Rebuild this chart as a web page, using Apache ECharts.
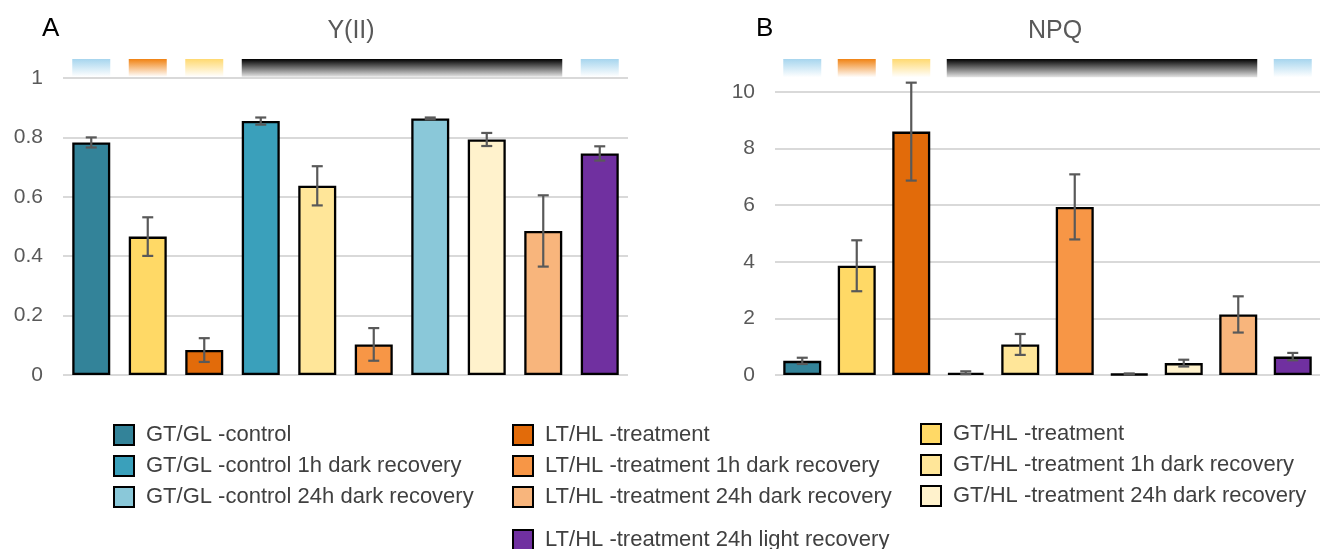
<!DOCTYPE html>
<html>
<head>
<meta charset="utf-8">
<script src="https://cdn.jsdelivr.net/npm/echarts@6/dist/echarts.min.js"></script>
<style>
html,body{margin:0;padding:0;background:#fff;}
#chart{width:1320px;height:549px;}
</style>
</head>
<body>
<div id="chart"></div>
<script>
// ---- data ----
const categories = [
  'GT/GL -control',
  'GT/HL -treatment',
  'LT/HL -treatment',
  'GT/GL -control 1h dark recovery',
  'GT/HL -treatment 1h dark recovery',
  'LT/HL -treatment 1h dark recovery',
  'GT/GL -control 24h dark recovery',
  'GT/HL -treatment 24h dark recovery',
  'LT/HL -treatment 24h dark recovery',
  'LT/HL -treatment 24h light recovery'
];
const yiiValues = [0.783, 0.466, 0.084, 0.855, 0.637, 0.103, 0.864, 0.793, 0.485, 0.746];
const yiiErrors = [0.017, 0.065, 0.040, 0.012, 0.066, 0.055, 0.003, 0.022, 0.120, 0.024];
const npqValues = [0.50, 3.86, 8.60, 0.08, 1.08, 5.94, 0.035, 0.42, 2.14, 0.65];
const npqErrors = [0.11, 0.90, 1.73, 0.05, 0.37, 1.15, 0.02, 0.12, 0.64, 0.13];
const yiiTicks = [0, 0.2, 0.4, 0.6, 0.8, 1];
const npqTicks = [0, 2, 4, 6, 8, 10];
// treatment timeline bands: [first category index, last category index, kind]
const bandSegments = [[0, 0, 'light'], [1, 1, 'orange'], [2, 2, 'yellow'], [3, 8, 'dark'], [9, 9, 'light']];
const legendCol1 = [categories[0], categories[3], categories[6]];
const legendCol2 = [categories[2], categories[5], categories[8]];
const legendCol3 = [categories[1], categories[4], categories[7]];
const legendCol4 = [categories[9]];

// ---- styles ----
const barColors = ['#338399', '#ffd966', '#e26b0a', '#3aa0bb', '#ffe699', '#f79646', '#8ac8d9', '#fff2cc', '#f8b57c', '#7030a0'];
const bandColors = {
  light: ['#a6d5ee', '#ffffff'],
  orange: ['#f08212', '#ffffff'],
  yellow: ['#ffd970', '#ffffff'],
  dark: ['#000000', '#e4e4e4']
};
const FONT = '"Liberation Sans", Arial, sans-serif';
const BAR_W = 38;

const chart = echarts.init(document.getElementById('chart'));

function errRender(params, api) {
  const x = api.coord([api.value(0), 0])[0];
  const hi = api.coord([api.value(0), api.value(2)])[1];
  const lo = api.coord([api.value(0), api.value(1)])[1];
  const hw = 5.5;
  const st = { stroke: '#595959', lineWidth: 2.2 };
  return { type: 'group', children: [
    { type: 'line', shape: { x1: x, y1: hi, x2: x, y2: lo }, style: st },
    { type: 'line', shape: { x1: x - hw, y1: hi, x2: x + hw, y2: hi }, style: st },
    { type: 'line', shape: { x1: x - hw, y1: lo, x2: x + hw, y2: lo }, style: st }
  ]};
}

function bandRender(lowV, highV) {
  return function (params, api) {
    const s = api.value(0), e = api.value(1);
    const kind = bandSegments[params.dataIndex][2];
    const x0 = api.coord([s, lowV])[0] - BAR_W / 2;
    const x1 = api.coord([e, lowV])[0] + BAR_W / 2;
    const yb = api.coord([s, lowV])[1];
    const yt = api.coord([s, highV])[1];
    const top = Math.min(yt, yb), bot = Math.max(yt, yb);
    return {
      type: 'rect',
      shape: { x: x0, y: top, width: x1 - x0, height: bot - top },
      style: {
        fill: new echarts.graphic.LinearGradient(0, top, 0, bot, [
          { offset: 0, color: bandColors[kind][0] },
          { offset: 1, color: bandColors[kind][1] }
        ], true)
      }
    };
  };
}

function makePanel(gridIndex, values, errors) {
  const out = [];
  categories.forEach((name, i) => {
    out.push({
      name: name,
      type: 'bar',
      xAxisIndex: gridIndex, yAxisIndex: gridIndex,
      barWidth: BAR_W,
      barGap: '-100%',
      itemStyle: { color: barColors[i], borderColor: '#000', borderWidth: 2.3 },
      data: values.map((v, j) => (j === i ? v : '-')),
      animation: false,
      z: 2
    });
  });
  out.push({
    type: 'custom',
    xAxisIndex: gridIndex, yAxisIndex: gridIndex,
    renderItem: errRender,
    clip: false,
    z: 5,
    animation: false,
    data: values.map((v, i) => [i, v - errors[i], v + errors[i]])
  });
  return out;
}

const yAxisBase = (ticks) => ({
  type: 'value',
  min: ticks[0], max: ticks[ticks.length - 1], interval: ticks[1] - ticks[0],
  axisLine: { show: false }, axisTick: { show: false },
  splitLine: { lineStyle: { color: '#d9d9d9', width: 2 } },
  axisLabel: { fontSize: 21, color: '#595959', fontFamily: FONT, margin: 20 }
});
const xAxisBase = () => ({
  type: 'category', data: categories,
  axisLine: { show: false }, axisTick: { show: false }, axisLabel: { show: false }
});

const legendBase = (data, left, top) => ({
  data: data, left: left, top: top, orient: 'vertical',
  padding: 0,
  itemWidth: 20, itemHeight: 20, itemGap: 9,
  icon: 'rect', selectedMode: false,
  itemStyle: { borderColor: '#000', borderWidth: 2 },
  textStyle: { fontSize: 22, color: '#404040', fontFamily: FONT, padding: [0, 0, 0, 7] }
});

const series = [].concat(
  makePanel(0, yiiValues, yiiErrors),
  makePanel(1, npqValues, npqErrors),
  [{
    type: 'custom', xAxisIndex: 0, yAxisIndex: 0, clip: false, animation: false, silent: true,
    renderItem: bandRender(1.004, 1.064),
    data: bandSegments.map(b => [b[0], b[1]])
  }, {
    type: 'custom', xAxisIndex: 1, yAxisIndex: 1, clip: false, animation: false, silent: true,
    renderItem: bandRender(10.52, 11.17),
    data: bandSegments.map(b => [b[0], b[1]])
  }]
);

chart.setOption({
  animation: false,
  backgroundColor: '#ffffff',
  textStyle: { fontFamily: FONT },
  title: [
    { text: 'A', left: 42, top: 16, padding: 0, textStyle: { fontSize: 26, fontWeight: 'normal', color: '#000', fontFamily: FONT } },
    { text: 'Y(II)', left: 351, textAlign: 'center', top: 19, padding: 0, textStyle: { fontSize: 25, fontWeight: 'normal', color: '#595959', fontFamily: FONT } },
    { text: 'B', left: 756, top: 16, padding: 0, textStyle: { fontSize: 26, fontWeight: 'normal', color: '#000', fontFamily: FONT } },
    { text: 'NPQ', left: 1055, textAlign: 'center', top: 19, padding: 0, textStyle: { fontSize: 25, fontWeight: 'normal', color: '#595959', fontFamily: FONT } }
  ],
  grid: [
    { left: 63, top: 78, width: 565, height: 297 },
    { left: 775, top: 92, width: 553, height: 283 }
  ],
  xAxis: [Object.assign(xAxisBase(), { gridIndex: 0 }), Object.assign(xAxisBase(), { gridIndex: 1 })],
  yAxis: [Object.assign(yAxisBase(yiiTicks), { gridIndex: 0 }), Object.assign(yAxisBase(npqTicks), { gridIndex: 1 })],
  legend: [
    legendBase(legendCol1, 113, 424),
    legendBase(legendCol2, 512, 424),
    legendBase(legendCol3, 920, 423),
    legendBase(legendCol4, 512, 529)
  ],
  series: series
});
</script>
</body>
</html>
